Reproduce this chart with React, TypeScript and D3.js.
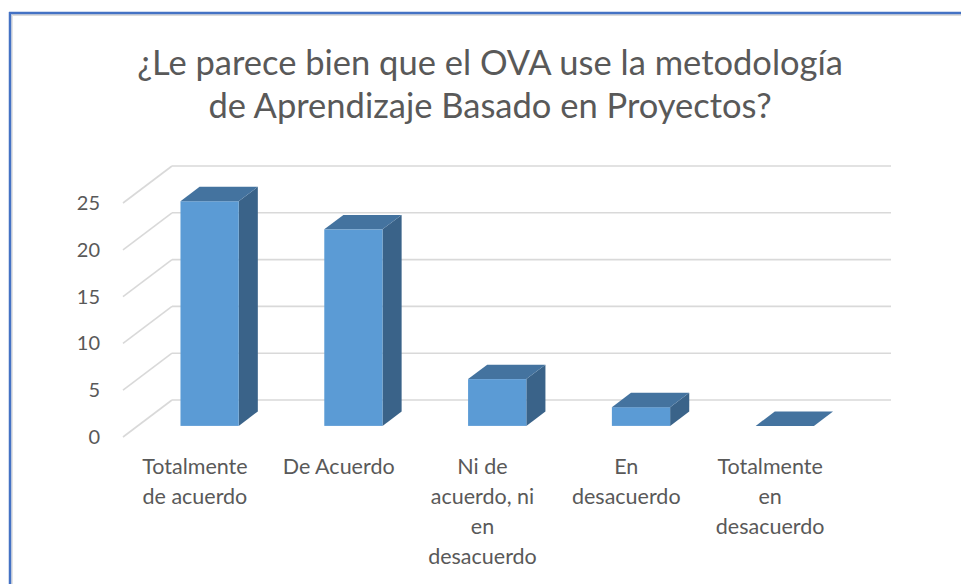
import React, { useEffect, useRef } from "react";
import * as d3 from "d3";

const categories = [
  "Totalmente de acuerdo",
  "De Acuerdo",
  "Ni de acuerdo, ni en desacuerdo",
  "En desacuerdo",
  "Totalmente en desacuerdo",
];
const categoryLines = [
  ["Totalmente", "de acuerdo"],
  ["De Acuerdo"],
  ["Ni de", "acuerdo, ni", "en", "desacuerdo"],
  ["En", "desacuerdo"],
  ["Totalmente", "en", "desacuerdo"],
];
const values = [24, 21, 5, 2, 0];
const yTicks = [0, 5, 10, 15, 20, 25];
const titleLines = [
  "¿Le parece bien que el OVA use la metodología",
  "de Aprendizaje Basado en Proyectos?",
];

const App = () => {
  const svgRef = useRef<SVGSVGElement>(null);

  useEffect(() => {
    const width = 961;
    const height = 584;
    const svg = d3.select(svgRef.current);
    svg.selectAll("*").remove();
    svg.attr("width", width).attr("height", height);

    const font = "Lato, 'Open Sans', sans-serif";
    const textColor = "#595959";

    // chart frame
    svg.append("rect").attr("width", width).attr("height", height).attr("fill", "#fff");
    svg.append("line").attr("x1", 12).attr("x2", width).attr("y1", 15).attr("y2", 15)
      .attr("stroke", "#dcdcdc").attr("stroke-width", 2);
    svg.append("line").attr("x1", 12).attr("x2", 12).attr("y1", 15).attr("y2", height)
      .attr("stroke", "#e4e4e4").attr("stroke-width", 2);
    svg.append("line").attr("x1", 9).attr("x2", width).attr("y1", 13).attr("y2", 13)
      .attr("stroke", "#4472c4").attr("stroke-width", 2.5);
    svg.append("line").attr("x1", 10).attr("x2", 10).attr("y1", 12).attr("y2", height)
      .attr("stroke", "#4472c4").attr("stroke-width", 2.5);

    // title
    svg.append("text")
      .attr("x", 490).attr("y", 75)
      .attr("text-anchor", "middle")
      .attr("font-family", font).attr("font-size", 34.5).attr("fill", textColor)
      .selectAll("tspan").data(titleLines).enter().append("tspan")
      .attr("x", 490).attr("dy", (d, i) => (i === 0 ? 0 : 43))
      .text((d) => d);

    // 3d geometry
    const depthX = 49;
    const depthY = -37;
    const x = d3.scaleBand().domain(categories).range([123, 842]);
    const y = d3.scaleLinear().domain([0, 25]).range([437, 203]);
    const d0 = 0.3;
    const d1 = 0.69;
    const barW = x.bandwidth() * 0.405;

    const grid = svg.append("g").attr("stroke", "#d9d9d9").attr("stroke-width", 1.6).attr("fill", "none");
    yTicks.forEach((t) => {
      grid.append("line")
        .attr("x1", 123).attr("y1", y(t))
        .attr("x2", 123 + depthX).attr("y2", y(t) + depthY);
      grid.append("line")
        .attr("x1", 123 + depthX).attr("y1", y(t) + depthY)
        .attr("x2", 842 + depthX).attr("y2", y(t) + depthY);
    });

    // y tick labels
    svg.append("g").selectAll("text").data(yTicks).enter().append("text")
      .attr("x", 100).attr("y", (d) => y(d))
      .attr("dy", "0.35em")
      .attr("text-anchor", "end")
      .attr("font-family", font).attr("font-size", 20).attr("fill", textColor)
      .text((d) => d);

    // bars
    const bars = svg.append("g");
    categories.forEach((c, i) => {
      const cx = (x(c) as number) + x.bandwidth() / 2;
      const fx0 = cx - barW / 2 + depthX * d0;
      const fx1 = cx + barW / 2 + depthX * d0;
      const fy0 = y(0) + depthY * d0;
      const fyT = y(values[i]) + depthY * d0;
      const dx = depthX * (d1 - d0);
      const dy = depthY * (d1 - d0);
      const g = bars.append("g");
      if (values[i] > 0) {
        g.append("polygon")
          .attr("points", [[fx1, fyT], [fx1 + dx, fyT + dy], [fx1 + dx, fy0 + dy], [fx1, fy0]].map((p) => p.join(",")).join(" "))
          .attr("fill", "#3a6389");
        g.append("rect")
          .attr("x", fx0).attr("y", fyT)
          .attr("width", fx1 - fx0).attr("height", fy0 - fyT)
          .attr("fill", "#5b9bd5");
      }
      g.append("polygon")
        .attr("points", [[fx0, fyT], [fx1, fyT], [fx1 + dx, fyT + dy], [fx0 + dx, fyT + dy]].map((p) => p.join(",")).join(" "))
        .attr("fill", "#44739f");
    });

    // category labels
    const labels = svg.append("g");
    categories.forEach((c, i) => {
      const cx = (x(c) as number) + x.bandwidth() / 2;
      labels.append("text")
        .attr("text-anchor", "middle")
        .attr("font-family", font).attr("font-size", 21.5).attr("fill", textColor)
        .selectAll("tspan").data(categoryLines[i]).enter().append("tspan")
        .attr("x", cx).attr("y", (d, j) => 474 + j * 30)
        .text((d) => d);
    });
  }, []);

  return <svg ref={svgRef} style={{ position: "absolute", left: 0, top: 0 }}></svg>;
};

export default App;
